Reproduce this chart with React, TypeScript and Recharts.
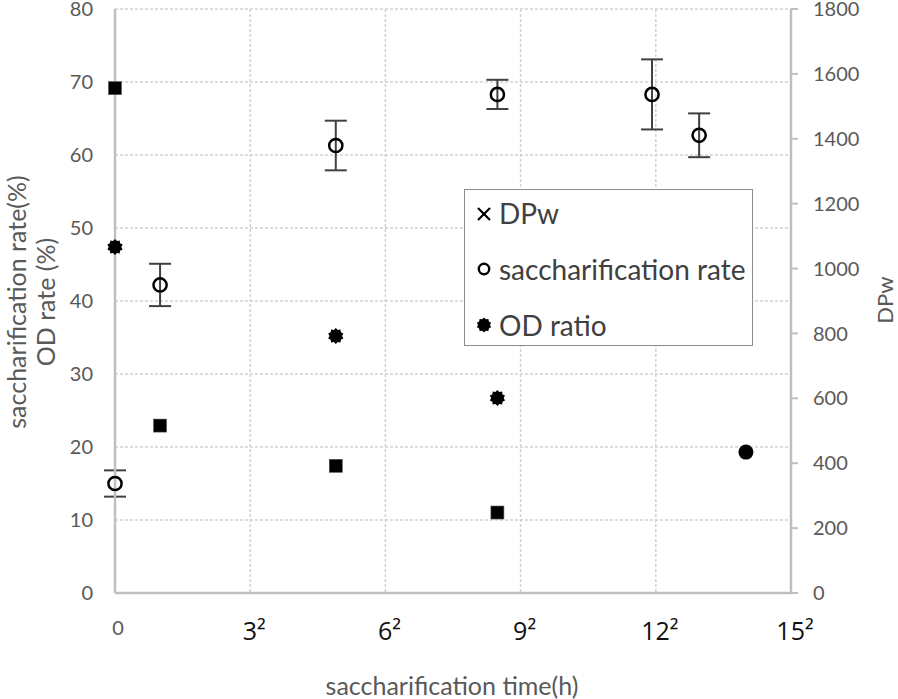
// saccharification time (√ scale) vs saccharification rate / OD ratio (left) and DPw (right)
import {
  CartesianGrid,
  ComposedChart,
  ErrorBar,
  Label,
  Legend,
  Scatter,
  XAxis,
  YAxis,
} from 'recharts'

const FONT = 'Lato, "Open Sans", sans-serif'
const AXIS = '#bfbfbf'
const TXT = '#595959'
const GRID = '#d2d2d2'
const BAR = '#404040'

// values (time in hours)
const dpwTime = [0, 1, 24, 72]
const dpwValue = [1556, 516, 392, 248]
const rateTime = [0, 1, 24, 72, 142, 168]
const rateValue = [15.0, 42.2, 61.3, 68.3, 68.3, 62.7]
const rateError = [1.8, 2.9, 3.4, 2.0, 4.8, 3.0]
const odTime = [0, 24, 72]
const odValue = [47.4, 35.2, 26.7]
const odLastTime = [196]
const odLastValue = [19.3]

const xTicks = [0, 9, 36, 81, 144, 225]
const xTickLabels = ['0', '3²', '6²', '9²', '12²', '15²']
const leftTicks = [0, 10, 20, 30, 40, 50, 60, 70, 80]
const rightTicks = [0, 200, 400, 600, 800, 1000, 1200, 1400, 1600, 1800]

const dpwData = dpwTime.map((t, i) => ({ t, v: dpwValue[i] }))
const rateData = rateTime.map((t, i) => ({ t, v: rateValue[i], err: rateError[i] }))
const odData = odTime.map((t, i) => ({ t, v: odValue[i] }))
const odLastData = odLastTime.map((t, i) => ({ t, v: odLastValue[i] }))

// ギザギザの丸（OD ratio マーカー）
function splat(cx: number, cy: number, ro: number, ri: number, n = 10) {
  const pts: string[] = []
  for (let k = 0; k < n * 2; k++) {
    const r = k % 2 === 0 ? ro : ri
    const a = (Math.PI * k) / n - Math.PI / 2
    pts.push(`${(cx + r * Math.cos(a)).toFixed(2)},${(cy + r * Math.sin(a)).toFixed(2)}`)
  }
  return pts.join(' ')
}

const SquareDot = (p: any) => (
  <rect x={p.cx - 6.5} y={p.cy - 6.5} width={13} height={13} fill="#000" stroke="#555" strokeWidth={0.6} />
)
const RingDot = (p: any) => (
  <circle cx={p.cx} cy={p.cy} r={6.6} fill="none" stroke="#000" strokeWidth={2.5} />
)
const SplatDot = (p: any) => <polygon points={splat(p.cx, p.cy, 8, 6.3)} fill="#000" />
const FilledDot = (p: any) => <circle cx={p.cx} cy={p.cy} r={7.5} fill="#000" />

// 0 は灰色の小さい字、ほかは黒の大きい字（平方表記）
function XTick(props: any) {
  const { x = 0, y = 0, payload } = props
  const idx = xTicks.indexOf(payload?.value)
  if (idx <= 0) {
    return (
      <text x={x + 3} y={y + 32} textAnchor="middle" dominantBaseline="central" fontFamily={FONT} fontSize={20} fill={TXT}>
        {xTickLabels[0]}
      </text>
    )
  }
  return (
    <text
      x={x + 4}
      y={y + 45}
      textAnchor="middle"
      fontFamily='"Open Sans", Lato, sans-serif'
      fontSize={25}
      fill="#111"
    >
      {xTickLabels[idx]}
    </text>
  )
}

function LegendBox() {
  const row = (top: number, marker: React.ReactNode, label: string) => (
    <div style={{ position: 'absolute', left: 0, top: top - 18, height: 36, display: 'flex', alignItems: 'center' }}>
      <svg width={34} height={36} style={{ display: 'block' }}>
        {marker}
      </svg>
      <span style={{ lineHeight: '36px', whiteSpace: 'nowrap' }}>{label}</span>
    </div>
  )
  return (
    <div
      style={{
        position: 'relative',
        width: 289,
        height: 157,
        boxSizing: 'border-box',
        border: '1.5px solid #8c8c8c',
        background: '#fff',
        fontFamily: FONT,
        fontSize: 28,
        color: '#404040',
      }}
    >
      {row(
        23,
        <g stroke="#000" strokeWidth={2.2}>
          <line x1={13} y1={13} x2={25} y2={25} />
          <line x1={25} y1={13} x2={13} y2={25} />
        </g>,
        'DPw'
      )}
      {row(79, <circle cx={19} cy={18} r={5.2} fill="none" stroke="#000" strokeWidth={2.4} />, 'saccharification rate')}
      {row(135, <polygon points={splat(19, 18, 7.5, 6)} fill="#000" />, 'OD ratio')}
    </div>
  )
}

export default function App() {
  return (
    <div style={{ position: 'absolute', left: 0, top: 0, width: 898, height: 699, background: '#fff' }}>
      <ComposedChart width={898} height={699} margin={{ top: 9, right: 0, bottom: 0, left: 0 }}>
        <CartesianGrid yAxisId="left" stroke={GRID} strokeDasharray="3 2" strokeWidth={1.5} />
        <XAxis
          dataKey="t"
          type="number"
          scale="sqrt"
          domain={[0, 225]}
          ticks={xTicks}
          interval={0}
          height={106}
          tickLine={false}
          tickSize={0}
          axisLine={{ stroke: AXIS, strokeWidth: 2.5 }}
          tick={<XTick />}
        >
          <Label
            content={() => (
              <text x={452} y={685} textAnchor="middle" dominantBaseline="central" fontFamily={FONT} fontSize={25} fill={TXT}>
                saccharification time(h)
              </text>
            )}
          />
        </XAxis>
        <YAxis
          yAxisId="left"
          dataKey="v"
          orientation="left"
          type="number"
          domain={[0, 80]}
          ticks={leftTicks}
          interval={0}
          width={115}
          tickLine={false}
          tickSize={6}
          tickMargin={16}
          axisLine={{ stroke: AXIS, strokeWidth: 2.5 }}
          tick={{ fontFamily: FONT, fontSize: 20, fill: TXT }}
        >
          <Label
            content={() => (
              <g fontFamily={FONT} fontSize={25} fill={TXT}>
                <text x={16} y={302} textAnchor="middle" dominantBaseline="central" transform="rotate(-90 16 302)">
                  saccharification rate(%)
                </text>
                <text x={45} y={302} textAnchor="middle" dominantBaseline="central" transform="rotate(-90 45 302)">
                  OD rate (%)
                </text>
              </g>
            )}
          />
        </YAxis>
        <YAxis
          yAxisId="right"
          dataKey="v"
          orientation="right"
          type="number"
          domain={[0, 1800]}
          ticks={rightTicks}
          interval={0}
          width={107}
          tickLine={{ stroke: AXIS, strokeWidth: 2 }}
          tickSize={7}
          tickMargin={15}
          axisLine={{ stroke: AXIS, strokeWidth: 2.5 }}
          tick={{ fontFamily: FONT, fontSize: 20, fill: TXT }}
        >
          <Label
            content={() => (
              <text x={884} y={300} textAnchor="middle" dominantBaseline="central" transform="rotate(-90 884 300)" fontFamily={FONT} fontSize={22} fill={TXT}>
                DPw
              </text>
            )}
          />
        </YAxis>
        <Legend
          layout="vertical"
          align="center"
          verticalAlign="middle"
          wrapperStyle={{ position: 'absolute', left: 464, top: 189, width: 289, height: 157 }}
          content={() => <LegendBox />}
        />

        <Scatter name="DPw" yAxisId="right" data={dpwData} dataKey="v" shape={SquareDot} isAnimationActive={false} />
        <Scatter name="saccharification rate" yAxisId="left" data={rateData} dataKey="v" shape={RingDot} isAnimationActive={false}>
          <ErrorBar dataKey="err" direction="y" width={11} stroke={BAR} strokeWidth={2} />
        </Scatter>
        <Scatter name="OD ratio" yAxisId="left" data={odData} dataKey="v" shape={SplatDot} isAnimationActive={false} />
        <Scatter name="OD ratio end" yAxisId="left" data={odLastData} dataKey="v" shape={FilledDot} isAnimationActive={false} />
      </ComposedChart>
    </div>
  )
}
